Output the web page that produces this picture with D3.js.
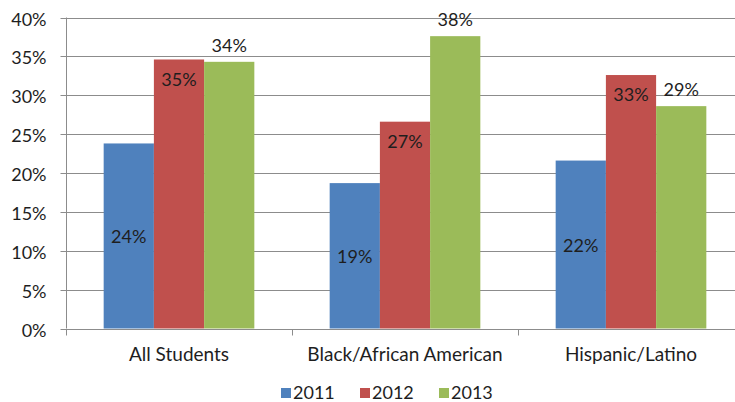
<!DOCTYPE html>
<html>
<head>
<meta charset="utf-8">
<script src="https://cdn.jsdelivr.net/npm/d3@7"></script>
<style>
  html, body { margin: 0; padding: 0; background: #fff; }
  svg { display: block; }
  text { font-family: Lato, "Liberation Sans", sans-serif; fill: #1e1e1e; }
</style>
</head>
<body>
<svg id="chart" width="735" height="402"></svg>
<script>
// Share of students by group and year
const categories = ["All Students", "Black/African American", "Hispanic/Latino"];
const years = ["2011", "2012", "2013"];
const values2011 = [0.238, 0.187, 0.216];
const values2012 = [0.346, 0.266, 0.326];
const values2013 = [0.343, 0.376, 0.286];
const yTicks = [0, 0.05, 0.10, 0.15, 0.20, 0.25, 0.30, 0.35, 0.40];
const colors = ["#4F81BD", "#C0504D", "#9BBB59"];

const seriesValues = [values2011, values2012, values2013];
const rows = categories.map((c, i) => ({
  category: c,
  bars: years.map((y, j) => ({ year: y, value: seriesValues[j][i], idx: j }))
}));

const plot = { left: 66, right: 744, top: 17.5, bottom: 328.5 };
const fontSize = 18;
const categoryFontSize = 19;

const svg = d3.select("#chart");

const x0 = d3.scaleBand()
  .domain(categories)
  .range([plot.left, plot.right])
  .paddingInner(1 / 3)
  .paddingOuter(1 / 6);

const x1 = d3.scaleBand()
  .domain(years)
  .range([0, x0.bandwidth()]);

const y = d3.scaleLinear()
  .domain([0, 0.4])
  .range([plot.bottom, plot.top]);

const color = d3.scaleOrdinal().domain(years).range(colors);
const pct = d3.format(".0%");

// Horizontal gridlines
svg.append("g")
  .selectAll("line")
  .data(yTicks.filter(t => t > 0))
  .join("line")
  .attr("x1", plot.left)
  .attr("x2", plot.right)
  .attr("y1", d => Math.round(y(d)) + 0.5)
  .attr("y2", d => Math.round(y(d)) + 0.5)
  .attr("stroke", "#8c8c8c")
  .attr("stroke-width", 1);

// Y axis
const yAxis = svg.append("g")
  .attr("transform", `translate(${plot.left + 0.5},0)`)
  .call(d3.axisLeft(y).tickValues(yTicks).tickFormat(pct).tickSize(6).tickPadding(14));
yAxis.select(".domain").attr("stroke", "#8c8c8c").attr("d", `M0,${plot.top}V${plot.bottom}`);
yAxis.selectAll(".tick line").attr("stroke", "#8c8c8c");
yAxis.selectAll(".tick").attr("transform", d => `translate(0,${Math.round(y(d)) + 0.5})`);
yAxis.selectAll(".tick text")
  .attr("font-size", fontSize)
  .attr("font-family", null)
  .attr("fill", "#1e1e1e")
  .attr("dy", "0.4em");

// Bars
const groups = svg.append("g")
  .selectAll("g")
  .data(rows)
  .join("g")
  .attr("transform", d => `translate(${x0(d.category)},0)`);

groups.selectAll("rect")
  .data(d => d.bars)
  .join("rect")
  .attr("x", d => x1(d.year))
  .attr("width", x1.bandwidth())
  .attr("y", d => y(d.value))
  .attr("height", d => y(0) - y(d.value))
  .attr("fill", d => color(d.year));

// Value labels: centred for 2011, inside end for 2012, outside end for 2013
groups.selectAll("text.value")
  .data(d => d.bars)
  .join("text")
  .attr("class", "value")
  .attr("x", d => x1(d.year) + x1.bandwidth() / 2)
  .attr("y", d => {
    if (d.idx === 0) return (y(d.value) + y(0)) / 2 + 1;
    if (d.idx === 1) return y(d.value) + 20;
    return y(d.value) - 16;
  })
  .attr("dy", "0.35em")
  .attr("text-anchor", "middle")
  .attr("font-size", fontSize)
  .text(d => pct(d.value));

// X axis baseline and category dividers
const xAxisG = svg.append("g").attr("transform", `translate(0,${Math.round(y(0)) + 0.5})`);
xAxisG.append("line")
  .attr("x1", plot.left)
  .attr("x2", plot.right)
  .attr("stroke", "#8c8c8c");
const step = x0.step();
const dividers = categories.map(c => x0(c) - step * x0.paddingOuter())
  .concat([plot.right]);
xAxisG.selectAll("line.div")
  .data(dividers)
  .join("line")
  .attr("class", "div")
  .attr("x1", d => Math.round(d) + 0.5)
  .attr("x2", d => Math.round(d) + 0.5)
  .attr("y1", 0)
  .attr("y2", 6)
  .attr("stroke", "#8c8c8c");

// Category labels
svg.append("g")
  .selectAll("text")
  .data(categories)
  .join("text")
  .attr("x", d => x0(d) + x0.bandwidth() / 2)
  .attr("y", 361)
  .attr("text-anchor", "middle")
  .attr("font-size", categoryFontSize)
  .text(d => d);

// Legend
const legend = svg.append("g").attr("transform", "translate(281,393)");
const legendStep = 79;
const items = legend.selectAll("g")
  .data(years)
  .join("g")
  .attr("transform", (d, i) => `translate(${i * legendStep},0)`);
items.append("rect")
  .attr("x", 0)
  .attr("y", -5)
  .attr("width", 10)
  .attr("height", 10)
  .attr("fill", d => color(d));
items.append("text")
  .attr("x", 12)
  .attr("y", 0)
  .attr("dy", "0.36em")
  .attr("font-size", fontSize)
  .text(d => d);
</script>
</body>
</html>
